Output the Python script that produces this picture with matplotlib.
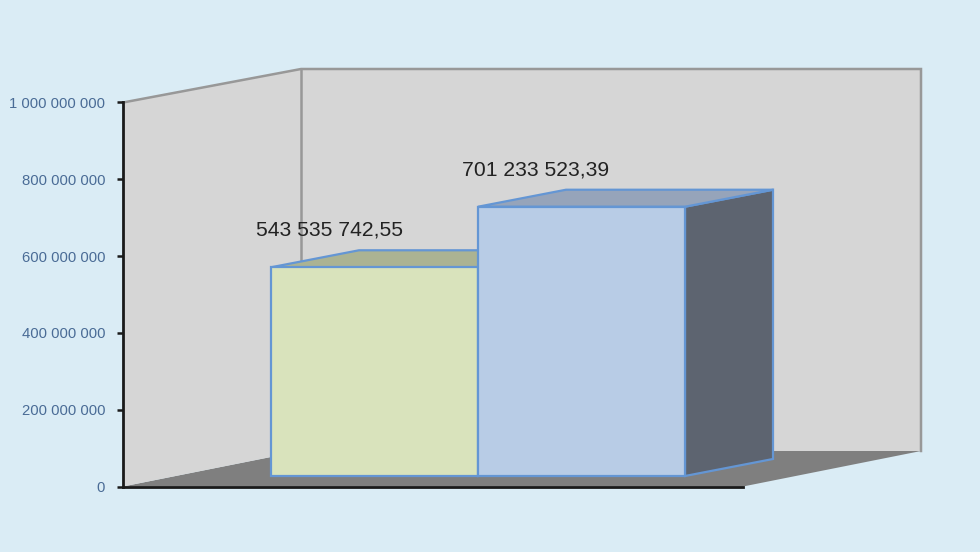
import matplotlib
matplotlib.use("Agg")
import matplotlib.pyplot as plt
from matplotlib.patches import Polygon

plt.rcParams['font.family'] = ['Liberation Sans', 'DejaVu Sans']

# Data
categories = ["A", "B"]
values = [543535742.55, 701233523.39]
value_labels = ["543 535 742,55", "701 233 523,39"]
y_ticks = [0, 200000000, 400000000, 600000000, 800000000, 1000000000]
y_tick_labels = ["0", "200 000 000", "400 000 000", "600 000 000", "800 000 000", "1 000 000 000"]

# Styles
BG = "#DAECF5"
WALL = "#D6D6D6"
WALL_EDGE = "#989898"
FLOOR = "#7F7F7F"
BAR_EDGE = "#6496D4"
FRONT = ["#D9E3BC", "#B8CCE6"]
TOP = ["#ABB393", "#96A4BA"]
SIDE = ["#6E7460", "#5D6470"]
TICK_TEXT = "#4A6C96"

W, H = 980, 552
L, R, T, B = 123, 743, 102.5, 486.5
fig = plt.figure(figsize=(W / 100, H / 100), dpi=100, facecolor=BG)
ax = fig.add_axes([L / W, 1 - B / H, (R - L) / W, (B - T) / H])
ax.set_facecolor("none")

# Axis scales: one bar width = 1 x unit, first bar starts at x = 0
bar_px = 207
ax.set_xlim((L - 271) / bar_px, (R - 271) / bar_px)
ax.set_ylim(0, 1e9)
ypx = 1e9 / (B - T)     # data units per pixel
xpx = 1 / bar_px

# Depth geometry
wall_dx, wall_dy = 178 * xpx, 35.5 * ypx
bar_dx, bar_dy = 88 * xpx, 17 * ypx
base = 10.5 * ypx
x0, x1 = ax.get_xlim()
ymax = 1e9


def poly(pts, fc, ec="none", lw=0, z=1):
    ax.add_patch(Polygon(pts, closed=True, facecolor=fc, edgecolor=ec, linewidth=lw,
                         joinstyle="miter", clip_on=False, zorder=z))


# Walls and floor
top_dy = 33.5 * ypx
poly([(x0, 0), (x0 + wall_dx, wall_dy), (x1 + wall_dx, wall_dy), (x1, 0)], FLOOR, z=1)
poly([(x0 + wall_dx, wall_dy), (x0 + wall_dx, ymax + top_dy),
      (x1 + wall_dx, ymax + top_dy), (x1 + wall_dx, wall_dy)], WALL, z=1.1)
poly([(x0, 0), (x0, ymax), (x0 + wall_dx, ymax + top_dy), (x0 + wall_dx, wall_dy)], WALL, z=1.2)
ax.plot([x0, x0 + wall_dx, x1 + wall_dx, x1 + wall_dx],
        [ymax, ymax + top_dy, ymax + top_dy, wall_dy],
        color=WALL_EDGE, lw=1.8, clip_on=False, zorder=1.3, solid_joinstyle="miter")
ax.plot([x0 + wall_dx, x0 + wall_dx], [wall_dy, ymax + top_dy],
        color=WALL_EDGE, lw=1.8, clip_on=False, zorder=1.3)

# Bars
for i, (v, lab) in enumerate(zip(values, value_labels)):
    xa, xb = i, i + 1
    y0, y1 = base, base + v
    z = 2 + i
    poly([(xb, y0), (xb, y1), (xb + bar_dx, y1 + bar_dy), (xb + bar_dx, y0 + bar_dy)],
         SIDE[i], BAR_EDGE, 1.6, z)
    poly([(xa, y1), (xa + bar_dx, y1 + bar_dy), (xb + bar_dx, y1 + bar_dy), (xb, y1)],
         TOP[i], BAR_EDGE, 1.6, z)
    poly([(xa, y0), (xa, y1), (xb, y1), (xb, y0)], FRONT[i], BAR_EDGE, 1.6, z + 0.1)
    ax.annotate(lab, xy=((xa + xb) / 2, y1), xytext=(-45.5 * 0.72, 37 * 0.72),
                textcoords="offset points", ha="center", va="center",
                fontsize=15.2, color="#222222", zorder=6, annotation_clip=False)

# Axes
for s in ("top", "right"):
    ax.spines[s].set_visible(False)
for s in ("left", "bottom"):
    ax.spines[s].set_color("#1A1A1A")
    ax.spines[s].set_linewidth(2.0)
    ax.spines[s].set_zorder(5)
ax.set_xticks([])
ax.set_yticks(y_ticks)
ax.set_yticklabels(y_tick_labels)
ax.tick_params(axis="y", length=4.5, width=1.8, color="#1A1A1A",
               labelcolor=TICK_TEXT, labelsize=10.7, pad=8.4)

fig.savefig("out.png", dpi=100, facecolor=BG)
